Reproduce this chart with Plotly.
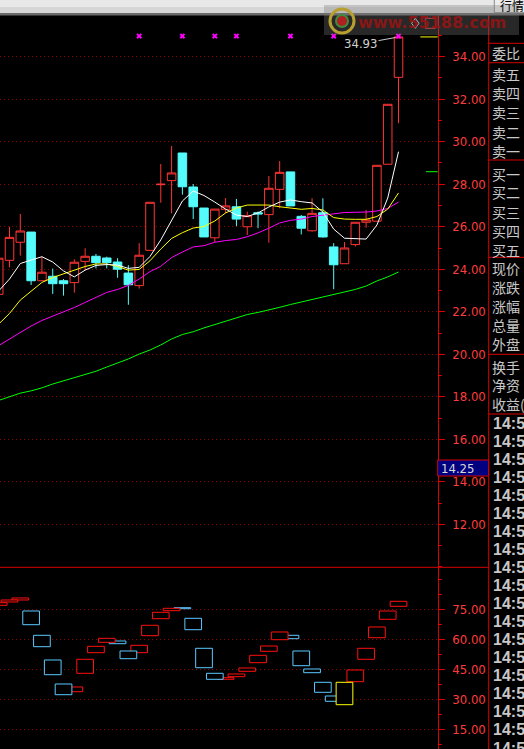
import plotly.graph_objects as go

W, H = 524, 749

# ---------------- daily bars (oldest first) ----------------
days = list(range(1, 39))
opens = [22.82, 24.42, 25.27, 25.75, 23.46, 23.67, 23.46, 23.37, 24.37, 24.61,
         24.53, 24.34, 23.82, 23.23, 24.89, 27.98, 28.17, 29.47, 27.87, 26.88,
         25.48, 26.82, 26.94, 26.00, 26.66, 26.57, 27.76, 28.58, 26.49, 25.81,
         26.66, 25.05, 24.26, 25.16, 26.21, 26.26, 28.94, 33.03]
highs = [24.70, 26.00, 26.60, 25.75, 24.59, 24.03, 23.54, 24.47, 24.99, 24.72,
         24.59, 24.52, 24.19, 25.23, 27.15, 28.95, 29.80, 29.47, 28.01, 26.88,
         26.83, 27.35, 27.31, 26.71, 26.72, 28.39, 29.09, 28.58, 26.55, 27.34,
         27.34, 25.23, 25.28, 26.21, 26.79, 28.89, 31.76, 34.93]
lows = [22.60, 24.09, 24.64, 23.26, 23.46, 22.84, 22.76, 22.90, 23.96, 24.04,
        24.04, 23.60, 22.33, 23.09, 24.89, 27.13, 26.63, 27.51, 26.36, 25.52,
        25.28, 26.63, 26.03, 25.61, 25.93, 25.25, 26.87, 26.98, 25.64, 25.77,
        25.49, 23.06, 24.26, 25.07, 25.95, 26.26, 28.94, 30.87]
closes = [24.52, 25.50, 25.80, 23.46, 23.86, 23.32, 23.32, 24.33, 24.61, 24.31,
          24.31, 24.00, 23.27, 24.66, 27.15, 28.00, 28.53, 27.88, 26.94, 25.52,
          26.83, 26.98, 26.36, 26.52, 26.60, 27.81, 28.56, 26.98, 25.93, 26.63,
          25.52, 24.21, 25.00, 26.21, 26.32, 28.89, 31.76, 34.93]

# moving averages
ma5 = [22.98, 23.54, 24.27, 24.44, 24.59, 24.34, 23.92, 23.64, 23.96, 24.18,
       24.22, 24.20, 24.04, 24.09, 24.60, 25.38, 26.27, 27.21, 27.68, 27.47,
       27.16, 26.83, 26.55, 26.48, 26.65, 26.93, 27.16, 27.26, 27.18, 27.12,
       26.69, 25.89, 25.46, 25.45, 25.42, 26.08, 27.35, 29.53]
ma10 = [21.42, 21.92, 22.55, 22.98, 23.38, 23.61, 23.78, 23.94, 24.13, 24.25,
        24.25, 24.13, 23.96, 23.99, 24.40, 24.95, 25.45, 25.72, 25.94, 26.01,
        26.27, 26.65, 26.88, 27.02, 27.02, 27.02, 26.94, 26.88, 26.82, 26.86,
        26.79, 26.43, 26.36, 26.35, 26.35, 26.48, 26.83, 27.59]
ma20 = [20.41, 20.72, 21.02, 21.33, 21.59, 21.79, 21.99, 22.20, 22.44, 22.69,
        22.91, 23.05, 23.24, 23.54, 23.89, 24.14, 24.55, 24.81, 25.05, 25.11,
        25.27, 25.35, 25.40, 25.53, 25.71, 25.93, 26.18, 26.30, 26.36, 26.48,
        26.55, 26.60, 26.67, 26.68, 26.69, 26.74, 26.86, 27.16]
ma60 = [17.83, 17.99, 18.17, 18.28, 18.42, 18.60, 18.75, 18.88, 19.02, 19.20,
        19.40, 19.59, 19.78, 20.01, 20.20, 20.44, 20.72, 20.93, 21.06, 21.24,
        21.40, 21.57, 21.73, 21.87, 21.97, 22.08, 22.21, 22.34, 22.46, 22.60,
        22.72, 22.81, 22.93, 23.05, 23.21, 23.45, 23.64, 23.87]

# oscillator boxes in the lower panel
osc_low = [77.0, 78.65, 79.65, 67.3, 56.3, 42.3, 32.3, 33.8, 43.0, 53.3,
           58.5, 57.8, 50.3, 53.3, 61.8, 70.3, 74.3, 75.3, 64.8, 45.8,
           40.0, 40.0, 41.3, 44.0, 48.3, 54.0, 59.8, 60.3, 46.8, 43.3,
           33.5, 29.0, 27.3, 38.8, 50.0, 60.8, 70.0, 76.5]
osc_high = [78.3, 79.65, 80.65, 74.15, 62.0, 49.65, 37.65, 36.15, 50.0, 56.5,
            60.5, 59.15, 54.15, 57.0, 67.0, 73.5, 75.5, 75.8, 70.5, 55.5,
            43.0, 40.8, 42.65, 45.65, 52.0, 56.65, 63.65, 62.0, 54.15, 45.15,
            38.5, 31.65, 38.5, 44.65, 55.5, 66.15, 74.15, 79.0]
osc_dir = ["up", "up", "up", "dn", "dn", "dn", "dn", "up", "up", "up",
           "up", "dn", "dn", "up", "up", "up", "up", "dn", "dn", "dn",
           "dn", "up", "up", "up", "up", "up", "up", "dn", "dn", "dn",
           "dn", "dn", "sel", "up", "up", "up", "up", "up"]

signal_days = [14, 18, 21, 23, 28, 32, 38]
signal_level = 34.97

price_ticks = [12, 14, 16, 18, 20, 22, 24, 26, 28, 30, 32, 34]
osc_ticks = [15, 30, 45, 60, 75]

last_close = 34.93
avg_cost = 28.59
cursor_value = 14.25

panel_groups = [
    ["委比"],
    ["卖五", "卖四", "卖三", "卖二", "卖一"],
    ["买一", "买二", "买三", "买四", "买五"],
    ["现价", "涨跌", "涨幅", "总量", "外盘"],
    ["换手", "净资", "收益("],
]
tape_times = ["14:52"] * 3 + ["14:53"] * 3 + ["14:54"] * 7 + ["14:55"] * 5 + ["14:56"]

# ---------------- styling ----------------
UP = "#ff3434"
DOWN = "#54fcfc"
SUB_RED = "#ff1010"
SUB_BLUE = "#5ac8ff"
YEL = "#ffff00"
GRID = "#8c0000"
AXIS = "#d80000"
LABEL_RED = "#ff3c3c"
GRAY_TXT = "#c8c8c8"
NARROW = "DejaVu Sans Condensed, DejaVu Sans, Arial"
CJK = "Noto Sans CJK SC"


def fx(px):
    return px / W


def fy(py):
    return 1 - py / H


AX_X = 437.7      # right edge of the chart area
PANEL_X = 488.7   # left edge of the quote panel
TOP_Y = 15.0
SPLIT_Y = 567.3
STEP = 10.806     # pixels per bar

fig = go.Figure()

fig.add_trace(go.Candlestick(
    x=days, open=opens, high=highs, low=lows, close=closes,
    increasing=dict(line=dict(color=UP, width=1), fillcolor="black"),
    decreasing=dict(line=dict(color=DOWN, width=1), fillcolor=DOWN),
    whiskerwidth=0, showlegend=False, hoverinfo="skip",
    xaxis="x", yaxis="y",
))

for vals, col in [(ma60, "#00ff00"), (ma20, "#ff00ff"), (ma10, YEL), (ma5, "#ffffff")]:
    fig.add_trace(go.Scatter(x=days, y=vals, mode="lines",
                             line=dict(color=col, width=1),
                             showlegend=False, hoverinfo="skip",
                             xaxis="x", yaxis="y"))

fig.add_trace(go.Scatter(x=signal_days, y=[signal_level] * len(signal_days),
                         mode="markers",
                         marker=dict(symbol="x", size=5, color="#ff00ff",
                                     line=dict(width=0)),
                         showlegend=False, hoverinfo="skip",
                         xaxis="x", yaxis="y"))

# lower-panel boxes: drawn newest first, the selected bar on top
color_of = {"up": SUB_RED, "dn": SUB_BLUE, "sel": YEL}
order = [i for i in reversed(range(len(days))) if osc_dir[i] != "sel"]
order += [i for i in range(len(days)) if osc_dir[i] == "sel"]
fig.add_trace(go.Bar(
    x=[days[i] for i in order],
    base=[osc_low[i] for i in order],
    y=[osc_high[i] - osc_low[i] for i in order],
    width=1.545,
    marker=dict(color="black",
                line=dict(color=[color_of[osc_dir[i]] for i in order], width=1)),
    showlegend=False, hoverinfo="skip",
    xaxis="x", yaxis="y2",
))

x_lo = 1 + 1.3 / STEP
x_hi = 1 + (AX_X + 1.3) / STEP

p_per_px = 1 / 21.255
y_top_price = 34 + (56.7 - TOP_Y) * p_per_px
y_bot_price = 34 - (SPLIT_Y - 56.7) * p_per_px
o_top = 75 + (609.3 - SPLIT_Y) / 2
o_bot = 75 - (H - 609.3) / 2

axis_common = dict(
    side="right", showline=True, linecolor=AXIS, linewidth=1,
    ticks="outside", ticklen=6, tickcolor=AXIS, tickwidth=1,
    tickformat=".2f", tickfont=dict(color=LABEL_RED, size=13, family=NARROW),
    showgrid=True, gridcolor=GRID, gridwidth=1, griddash="1px,3px",
    zeroline=False, fixedrange=True, ticklabelstandoff=5,
)

fig.update_layout(
    width=W, height=H,
    margin=dict(l=0, r=0, t=0, b=0),
    paper_bgcolor="black", plot_bgcolor="black",
    showlegend=False, barmode="overlay",
    boxgap=0.21, boxgroupgap=0,
    xaxis=dict(domain=[0, fx(AX_X)], range=[x_lo, x_hi], visible=False,
               rangeslider=dict(visible=False), fixedrange=True),
    yaxis=dict(domain=[fy(SPLIT_Y), fy(TOP_Y)], range=[y_bot_price, y_top_price],
               anchor="x", tickmode="array", tickvals=price_ticks,
               minor=dict(dtick=1, tick0=0, ticks="outside", ticklen=3,
                          tickcolor=AXIS, showgrid=False),
               **axis_common),
    yaxis2=dict(domain=[0, fy(SPLIT_Y)], range=[o_bot, o_top],
                anchor="x", tickmode="array", tickvals=osc_ticks,
                minor=dict(dtick=7.5, tick0=0, ticks="outside", ticklen=3,
                           tickcolor=AXIS, showgrid=False),
                **axis_common),
)

shapes = []
annos = []

# markers beside the price scale
shapes.append(dict(type="line", xref="paper", yref="y", x0=fx(420.3), x1=fx(AX_X),
                   y0=last_close, y1=last_close, line=dict(color=YEL, width=1)))
shapes.append(dict(type="line", xref="paper", yref="y", x0=fx(426), x1=fx(AX_X),
                   y0=avg_cost, y1=avg_cost, line=dict(color="#00ff00", width=1)))

# panel frames
shapes.append(dict(type="line", xref="paper", yref="paper", x0=0, x1=fx(PANEL_X),
                   y0=fy(SPLIT_Y), y1=fy(SPLIT_Y), line=dict(color=AXIS, width=1)))
shapes.append(dict(type="line", xref="paper", yref="paper", x0=fx(PANEL_X), x1=fx(PANEL_X),
                   y0=fy(TOP_Y), y1=0, line=dict(color=AXIS, width=1)))
for sy in [43.3, 62.7, 160, 257.3, 354.3, 414]:
    shapes.append(dict(type="line", xref="paper", yref="paper", x0=fx(PANEL_X), x1=1,
                       y0=fy(sy), y1=fy(sy), line=dict(color=AXIS, width=1)))

# cursor value tag on the price scale
shapes.append(dict(type="rect", xref="paper", yref="paper", x0=fx(AX_X), x1=fx(PANEL_X),
                   y0=fy(476), y1=fy(460), fillcolor="#000080",
                   line=dict(color=AXIS, width=1)))
annos.append(dict(xref="paper", yref="paper", x=fx(439), y=fy(468.5), xanchor="left",
                  yanchor="middle", text=f"{cursor_value:.2f}", showarrow=False,
                  font=dict(color="#d8d8d8", size=13, family=NARROW)))

# title strip
shapes.append(dict(type="rect", xref="paper", yref="paper", x0=0, x1=1, y0=fy(7), y1=1,
                   fillcolor="#e8e8e8", line=dict(width=0), layer="above"))
shapes.append(dict(type="rect", xref="paper", yref="paper", x0=0, x1=1, y0=fy(13.5), y1=fy(7),
                   fillcolor="#d6d6d6", line=dict(width=0), layer="above"))
shapes.append(dict(type="rect", xref="paper", yref="paper", x0=0, x1=1, y0=fy(15.5), y1=fy(13.5),
                   fillcolor="#6a6a6a", line=dict(width=0), layer="above"))
shapes.append(dict(type="rect", xref="paper", yref="paper", x0=fx(494.3), x1=fx(524.5),
                   y0=fy(12.7), y1=fy(-1), fillcolor="#ececec",
                   line=dict(color="#8a8a8a", width=1), layer="above"))
annos.append(dict(xref="paper", yref="paper", x=fx(497.5), y=fy(6), xanchor="left",
                  yanchor="middle", text="行情", showarrow=False,
                  font=dict(color="#000000", size=12, family=CJK)))

# small toolbar glyphs
shapes.append(dict(type="path", xref="paper", yref="paper",
                   path=f"M {fx(415.3)},{fy(18.3)} L {fx(419)},{fy(23.3)} L {fx(415.3)},{fy(28.3)} "
                        f"L {fx(411.6)},{fy(23.3)} Z",
                   line=dict(color="#d0d0d0", width=1), layer="above"))
shapes.append(dict(type="rect", xref="paper", yref="paper", x0=fx(425.3), x1=fx(435.3),
                   y0=fy(28.3), y1=fy(18.3), line=dict(color="#d03030", width=1),
                   layer="above"))

# site watermark
shapes.append(dict(type="rect", xref="paper", yref="paper", x0=fx(324), x1=fx(519),
                   y0=fy(35), y1=fy(5), fillcolor="rgba(120,120,120,0.33)",
                   line=dict(width=0), layer="above"))
shapes.append(dict(type="circle", xref="paper", yref="paper", x0=fx(330), x1=fx(354),
                   y0=fy(33), y1=fy(9), line=dict(color="#b8a030", width=3),
                   fillcolor="rgba(0,0,0,0)", layer="above"))
shapes.append(dict(type="circle", xref="paper", yref="paper", x0=fx(336), x1=fx(348),
                   y0=fy(27), y1=fy(15), line=dict(color="#3c8c3c", width=2),
                   fillcolor="#b02020", layer="above"))
annos.append(dict(xref="paper", yref="paper", x=fx(432), y=fy(22), xanchor="center",
                  yanchor="middle", text="<b>www.55188.com</b>", showarrow=False,
                  font=dict(color="rgba(150,20,20,0.9)", size=16, family="DejaVu Sans")))

# high-price callout
annos.append(dict(x=38, y=highs[-1], xref="x", yref="y", text=f"{highs[-1]:.2f}",
                  showarrow=True, arrowhead=0, arrowwidth=1, arrowcolor="#c8c8c8",
                  ax=-38, ay=7, standoff=3,
                  font=dict(color="#d0d0d0", size=13, family=NARROW)))

# quote panel captions
group_rows = [(53.3, 19.2), (74.0, 19.2), (173.5, 19.0), (268.0, 19.0), (366.5, 18.8)]
for labels, (y0, pitch) in zip(panel_groups, group_rows):
    for j, lab in enumerate(labels):
        annos.append(dict(xref="paper", yref="paper", x=fx(489.5), y=fy(y0 + pitch * j),
                          xanchor="left", yanchor="middle", text=lab, showarrow=False,
                          font=dict(color=GRAY_TXT, size=14, family=CJK)))

# trade tape times
for j, t in enumerate(tape_times):
    annos.append(dict(xref="paper", yref="paper", x=fx(490.5), y=fy(423.3 + 18.04 * j),
                      xanchor="left", yanchor="middle", text=f"<b>{t}</b>", showarrow=False,
                      font=dict(color=GRAY_TXT, size=16, family="Liberation Sans")))

fig.update_layout(shapes=shapes, annotations=annos)
fig.write_html("out.html")
